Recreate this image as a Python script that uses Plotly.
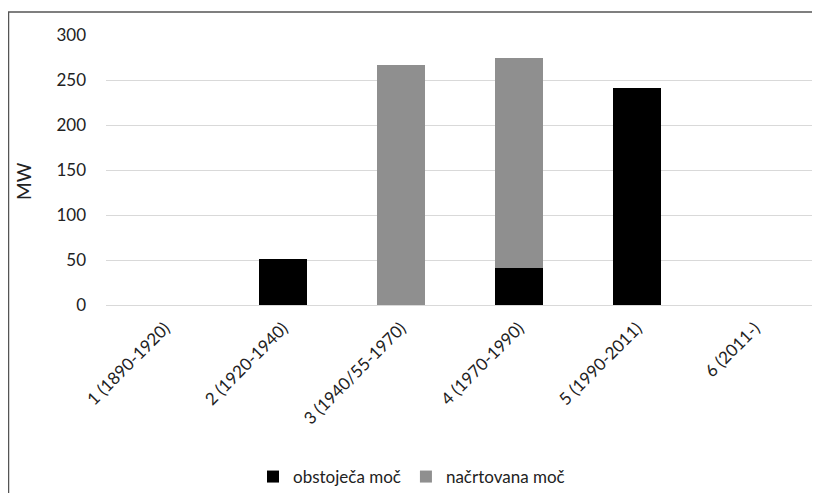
import plotly.graph_objects as go

categories = ["1 (1890-1920)", "2 (1920-1940)", "3 (1940/55-1970)", "4 (1970-1990)", "5 (1990-2011)", "6 (2011-)"]
obstojeca = [0, 51, 0, 41.5, 241.5, 0]
nacrtovana = [0, 0, 267, 232.5, 0, 0]
y_ticks = [0, 50, 100, 150, 200, 250, 300]

# page body has an 8px default margin; figure coordinates are offset by it
OFF = 8
W, H = 820 - OFF, 493 - OFF
plot_l, plot_r, plot_t, plot_b = 106 - OFF, 814 - OFF, 35 - OFF, 305 - OFF
ml, mr, mt, mb = plot_l, W - plot_r, plot_t, H - plot_b
pw = plot_r - plot_l
ph = plot_b - plot_t

def px2x(px):
    return (px - OFF - plot_l) / pw

def py2y(py):
    return (plot_b - (py - OFF)) / ph

font = "Lato, Open Sans, sans-serif"
txt = "#222222"
fig = go.Figure()
fig.add_trace(go.Bar(x=categories, y=obstojeca, name="obstoječa moč", marker_color="#000000", marker_line_width=0))
fig.add_trace(go.Bar(x=categories, y=nacrtovana, name="načrtovana moč", marker_color="#8f8f8f", marker_line_width=0))

fig.update_layout(
    width=W, height=H,
    margin=dict(l=ml, r=mr, t=mt, b=mb, pad=0, autoexpand=False),
    barmode="stack", bargap=0.6,
    plot_bgcolor="white", paper_bgcolor="white",
    font=dict(family=font, size=17, color=txt),
    showlegend=True,
    legend=dict(orientation="h", x=px2x(253), xanchor="left", y=py2y(477), yanchor="middle",
                font=dict(size=17, color=txt), itemwidth=30, traceorder="normal",
                bgcolor="rgba(0,0,0,0)"),
    xaxis=dict(tickangle=-45, showgrid=False, showline=False, ticks="", automargin=False,
               ticklabelstandoff=9, tickfont=dict(size=17, color=txt)),
    yaxis=dict(range=[0, 300], tickvals=y_ticks, showgrid=True, gridcolor="#d9d9d9", gridwidth=1,
               zeroline=True, zerolinecolor="#d9d9d9", zerolinewidth=1, showline=False, ticks="",
               automargin=False, ticklabelstandoff=19, tickfont=dict(size=17, color=txt)),
    annotations=[dict(text="MW", x=px2x(23), y=py2y(181), xref="paper", yref="paper", showarrow=False,
                      textangle=-90, font=dict(size=19, color=txt), xanchor="center", yanchor="middle")],
    shapes=[dict(type="rect", xref="paper", yref="paper", x0=px2x(8.5), x1=px2x(840), y0=py2y(520), y1=py2y(12),
                 line=dict(color="#555555", width=1.5), fillcolor="rgba(0,0,0,0)", layer="below")],
)

fig.write_html("out.html")
